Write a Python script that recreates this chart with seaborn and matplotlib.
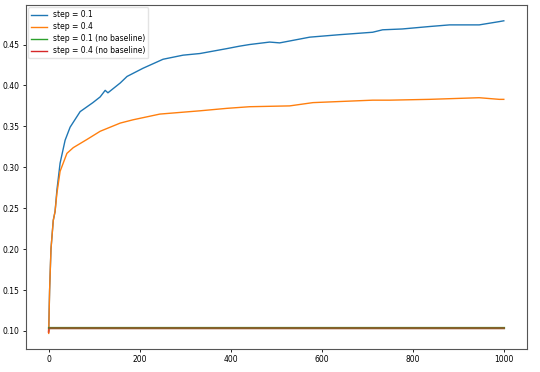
import pandas as pd
import numpy as np
import matplotlib
matplotlib.use('Agg')
import matplotlib.pyplot as plt
import seaborn as sns

# values
steps_01 = [0, 2, 5, 10, 14, 18, 25, 36, 47, 69, 97, 113, 124, 130, 157, 172, 207,
            251, 295, 332, 391, 419, 441, 485, 507, 573, 638, 711, 733, 776, 836,
            880, 945, 989, 999]
reward_01 = [0.100, 0.150, 0.200, 0.235, 0.246, 0.272, 0.305, 0.333, 0.349, 0.368,
             0.379, 0.386, 0.394, 0.391, 0.403, 0.411, 0.421, 0.432, 0.437, 0.439,
             0.445, 0.448, 0.450, 0.453, 0.452, 0.459, 0.462, 0.465, 0.468, 0.469,
             0.472, 0.474, 0.474, 0.478, 0.479]

steps_04 = [0, 2, 5, 10, 14, 18, 25, 40, 54, 84, 113, 157, 185, 244, 332, 391, 441,
            529, 580, 711, 748, 836, 945, 989, 999]
reward_04 = [0.097, 0.150, 0.200, 0.235, 0.246, 0.268, 0.295, 0.317, 0.324, 0.334,
             0.344, 0.354, 0.358, 0.365, 0.369, 0.372, 0.374, 0.375, 0.379, 0.382,
             0.382, 0.383, 0.385, 0.383, 0.383]

steps_flat = [0, 1, 999]
reward_01_nb = [0.1035, 0.1035, 0.1035]
reward_04_nb = [0.0990, 0.1033, 0.1033]

labels = ['step = 0.1', 'step = 0.4', 'step = 0.1 (no baseline)', 'step = 0.4 (no baseline)']
colors = ['tab:blue', 'tab:orange', 'tab:green', 'tab:red']

frames = [
    pd.DataFrame({'step': steps_01, 'reward': reward_01, 'run': labels[0]}),
    pd.DataFrame({'step': steps_04, 'reward': reward_04, 'run': labels[1]}),
    pd.DataFrame({'step': steps_flat, 'reward': reward_01_nb, 'run': labels[2]}),
    pd.DataFrame({'step': steps_flat, 'reward': reward_04_nb, 'run': labels[3]}),
]
df = pd.concat(frames, ignore_index=True)

fig = plt.figure(figsize=(5.4, 3.72), dpi=100)
ax = fig.add_axes([0.048, 0.062, 0.928, 0.925])

sns.lineplot(data=df, x='step', y='reward', hue='run', hue_order=labels,
             palette=colors, estimator=None, linewidth=1, ax=ax)

# the two flat runs overlap and blend into a dark brown line
ax.lines[2].set_linewidth(1.6)
ax.lines[3].set_linewidth(1.6)
ax.lines[3].set_alpha(0.55)

ax.set_xlabel('')
ax.set_ylabel('')
ax.set_xticks([0, 200, 400, 600, 800, 1000])
ax.set_yticks([0.10, 0.15, 0.20, 0.25, 0.30, 0.35, 0.40, 0.45])
ax.set_xlim(-50, 1050)
ax.set_ylim(0.078, 0.4985)
ax.tick_params(labelsize=5.5, length=2.5, width=0.6, pad=2)
for s in ax.spines.values():
    s.set_color('#555555')
    s.set_linewidth(0.8)

leg = ax.legend(loc='upper left', fontsize=5.5, handlelength=2, borderaxespad=0.3,
                labelspacing=0.4, framealpha=0.8, edgecolor='#dddddd')
for h in leg.get_lines():
    h.set_linewidth(1)
    h.set_alpha(1)

fig.savefig('out.png', dpi=100)
